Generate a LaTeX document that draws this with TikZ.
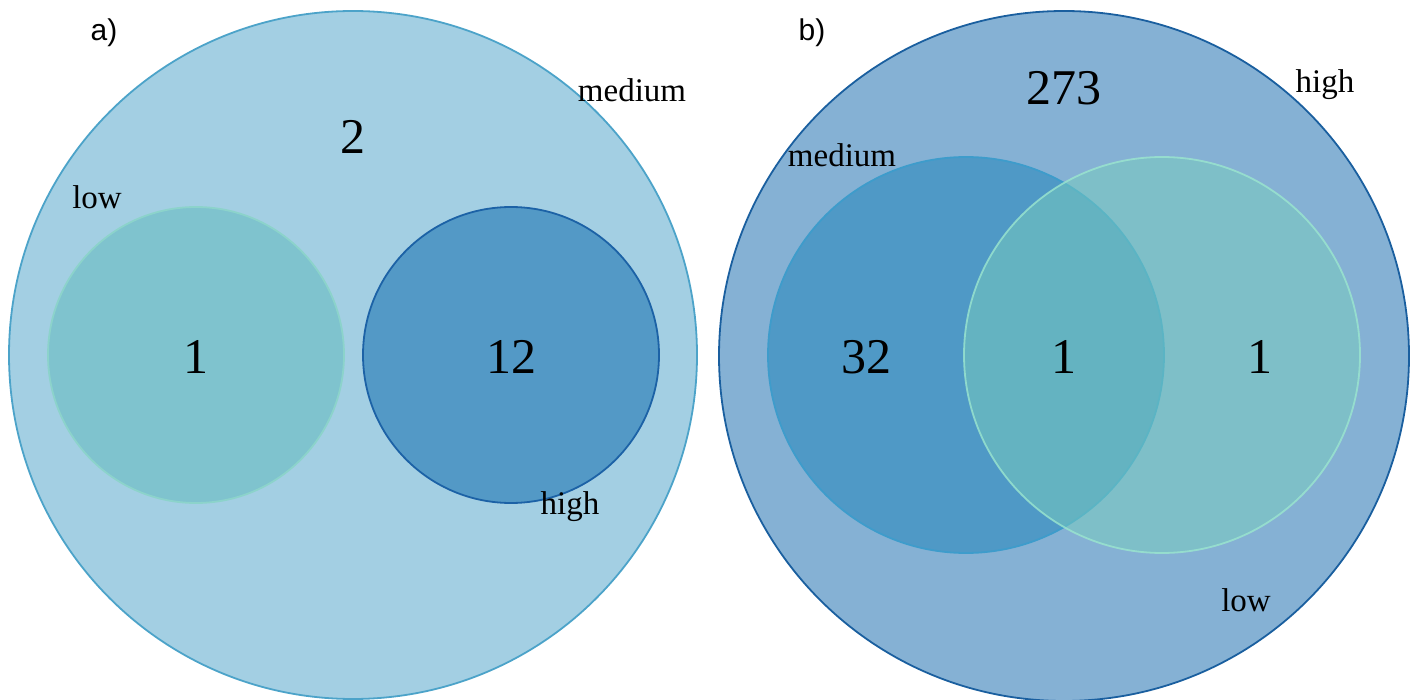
\documentclass[tikz,border=0pt]{standalone}
\usepackage{fontspec}
\setmainfont{Liberation Serif}
\setsansfont{Liberation Sans}
\usepackage{tikz}
\usetikzlibrary{positioning}
\definecolor{aouter}{HTML}{A3CFE3}
\definecolor{aouterln}{HTML}{4CA3C9}
\definecolor{alowfill}{HTML}{7FC3CE}
\definecolor{alowln}{HTML}{8CD3CB}
\definecolor{highfill}{HTML}{5399C6}
\definecolor{highln}{HTML}{1C62A6}
\definecolor{bouter}{HTML}{85B1D4}
\definecolor{bouterln}{HTML}{1A5F9F}
\definecolor{medfill}{HTML}{4F99C6}
\definecolor{medln}{HTML}{3E9CCB}
\definecolor{blowfill}{HTML}{79CDBE}
\definecolor{blowln}{HTML}{9BE6CF}

\begin{document}
\begin{tikzpicture}[
  x=1pt, y=-1pt,
  set/.style={circle, inner sep=0pt, line width=1.8pt},
  count/.style={font=\fontsize{50}{50}\selectfont},
  tag/.style={font=\fontsize{33}{33}\selectfont},
  panel/.style={font=\sffamily\fontsize{30}{30}\selectfont}
]
  \useasboundingbox (0,0) rectangle (1416,700);

  % panel a
  \node[set, draw=aouterln, fill=aouter, minimum size=688pt] (aMed) at (353,355) {};
  \node[set, draw=alowln, fill=alowfill, minimum size=296pt] (aLow) at (196,355) {};
  \node[set, draw=highln, fill=highfill, minimum size=296pt] (aHigh) at (511,355) {};

  \node[panel] (aTag) at (104,33) {a)};
  \node[count] (aMedN)  at (353,137) {2};
  \node[count] (aLowN)  at (196,357) {1};
  \node[count] (aHighN) at (511,357) {12};
  \node[tag] (aMedL)  at (632,90)  {medium};
  \node[tag] (aLowL)  at (97,197)  {low};
  \node[tag] (aHighL) at (570,507) {high};

  % panel b
  \node[set, draw=bouterln, fill=bouter, minimum size=690pt] (bHigh) at (1064,356) {};
  \node[set, draw=medln, fill=medfill, minimum size=396pt] (bMed) at (966,355) {};
  \node[set, draw=blowln, fill=blowfill, fill opacity=0.5, draw opacity=0.8, minimum size=396pt] (bLow) at (1162,355) {};

  \node[panel] (bTag) at (812,33) {b)};
  \node[count] (bHighN) at (1064,88)  {273};
  \node[count] (bMedN)  at (866,357)  {32};
  \node[count] (bBothN) at (1064,357) {1};
  \node[count] (bLowN)  at (1260,357) {1};
  \node[tag] (bHighL) at (1325,85)  {high};
  \node[tag] (bMedL)  at (842,155)  {medium};
  \node[tag] (bLowL)  at (1246,600) {low};

\end{tikzpicture}
\end{document}
